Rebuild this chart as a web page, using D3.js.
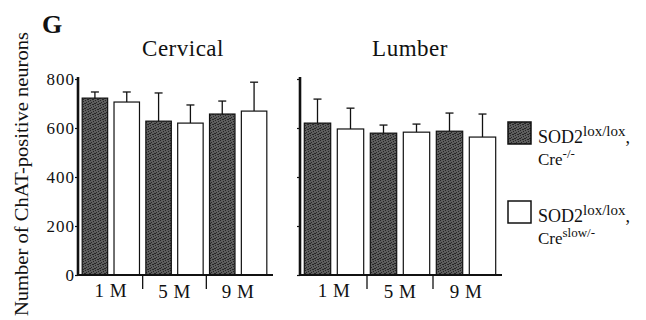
<!DOCTYPE html>
<html>
<head>
<meta charset="utf-8">
<script src="https://cdn.jsdelivr.net/npm/d3@7"></script>
<style>
  body { margin: 0; background: #fff; }
  text { font-family: "Liberation Serif", "Tinos", "DejaVu Serif", serif; fill: #111; }
</style>
</head>
<body>
<div id="chart"></div>
<script>
// values (mean, upper error)
var months = ['1 M', '5 M', '9 M'],
    genotypes = ['ctrl', 'slow'],
    cervicalMean = [722, 706, 628, 620, 657, 669],
    cervicalErr = [25, 41, 115, 74, 53, 118],
    lumberMean = [620, 596, 579, 583, 587, 563],
    lumberErr = [98, 85, 33, 33, 74, 94],
    yTicks = [0, 200, 400, 600, 800]

var width = 646, height = 320,
    serif = '"Liberation Serif", "Tinos", "DejaVu Serif", serif'

var svg = d3.select('#chart').append('svg')
    .attr('width', width)
    .attr('height', height)
    .attr('font-family', serif)

// stippled dark fill like the printed figure
var defs = svg.append('defs')
var pat = defs.append('pattern')
    .attr('id', 'stipple')
    .attr('width', 5).attr('height', 5)
    .attr('patternUnits', 'userSpaceOnUse')
pat.append('rect').attr('width', 5).attr('height', 5).attr('fill', '#5e5e5e')
var dots = [[0, 0], [3, 1], [1, 2], [4, 3], [2, 4], [0, 3], [3, 4]]
dots.forEach(function (d) {
    pat.append('rect').attr('x', d[0]).attr('y', d[1]).attr('width', 1).attr('height', 1).attr('fill', '#262626')
})

var y = d3.scaleLinear().domain([0, 800]).range([275, 79])

var keys = []
months.forEach(function (m) { genotypes.forEach(function (g) { keys.push(m + '|' + g) }) })

var panels = [
    { title: 'Cervical', mean: cervicalMean, err: cervicalErr, x0: 78, x1: 273, labels: true, tx: 183 },
    { title: 'Lumber', mean: lumberMean, err: lumberErr, x0: 300, x1: 502, labels: false, tx: 410 }
]

panels.forEach(drawPanel)

function drawPanel(p) {
    var x = d3.scaleBand().domain(keys).range([p.x0 + 1, p.x1 - 3]).paddingInner(0.2).paddingOuter(0.1)
    var g = svg.append('g')

    // y axis
    var axis = d3.axisLeft(y).tickValues(yTicks).tickSize(3).tickSizeOuter(0)
        .tickFormat(p.labels ? d3.format('d') : '')
    var ag = g.append('g').attr('transform', 'translate(' + p.x0 + ',0)').call(axis)
        .attr('font-family', serif)
    ag.select('.domain').attr('stroke', '#111').attr('stroke-width', 2.6)
        .attr('d', 'M0,' + (y(0) + 1) + 'V' + (y(800) - 2))
    ag.selectAll('.tick line').attr('stroke', '#111').attr('stroke-width', 1.2)
    ag.selectAll('.tick text')
        .style('font-size', '17px')
        .style('letter-spacing', '1px')
        .attr('fill', '#111')
        .attr('x', -3).attr('dy', '0.35em')

    // bars
    var data = keys.map(function (k, i) { return { key: k, mean: p.mean[i], err: p.err[i], dark: i % 2 === 0 } })

    g.selectAll('line.err').data(data).enter().append('line')
        .attr('x1', function (d) { return x(d.key) + x.bandwidth() / 2 })
        .attr('x2', function (d) { return x(d.key) + x.bandwidth() / 2 })
        .attr('y1', function (d) { return y(d.mean) })
        .attr('y2', function (d) { return y(d.mean + d.err) })
        .attr('stroke', '#111').attr('stroke-width', 1.3)
    g.selectAll('line.cap').data(data).enter().append('line')
        .attr('x1', function (d) { return x(d.key) + x.bandwidth() / 2 - 4 })
        .attr('x2', function (d) { return x(d.key) + x.bandwidth() / 2 + 4 })
        .attr('y1', function (d) { return y(d.mean + d.err) })
        .attr('y2', function (d) { return y(d.mean + d.err) })
        .attr('stroke', '#111').attr('stroke-width', 1.3)

    g.selectAll('rect.bar').data(data).enter().append('rect')
        .attr('x', function (d) { return x(d.key) })
        .attr('width', x.bandwidth())
        .attr('y', function (d) { return y(d.mean) })
        .attr('height', function (d) { return y(0) - y(d.mean) })
        .attr('fill', function (d) { return d.dark ? 'url(#stipple)' : '#fff' })
        .attr('stroke', '#111')
        .attr('stroke-width', 1.2)

    // x axis line
    g.append('line')
        .attr('x1', p.x0).attr('x2', p.x1)
        .attr('y1', y(0)).attr('y2', y(0))
        .attr('stroke', '#111').attr('stroke-width', 2)

    // group dividers and month labels
    months.forEach(function (m, i) {
        var a = x(m + '|' + genotypes[0]),
            b = x(m + '|' + genotypes[1]) + x.bandwidth()
        g.append('text')
            .attr('x', (a + b) / 2)
            .attr('y', y(0) + 22 + (i > 0 ? 1 : 0))
            .attr('text-anchor', 'middle')
            .style('font-size', '19px')
            .style('letter-spacing', '0.5px')
            .text(m)
        if (i > 0) {
            var prev = x(months[i - 1] + '|' + genotypes[1]) + x.bandwidth()
            var mid = (prev + a) / 2
            g.append('line')
                .attr('x1', mid).attr('x2', mid)
                .attr('y1', y(0)).attr('y2', y(0) + 14)
                .attr('stroke', '#111').attr('stroke-width', 1.3)
        }
    })

    // title
    g.append('text')
        .attr('x', p.tx)
        .attr('y', 56)
        .attr('text-anchor', 'middle')
        .style('font-size', '23px')
        .style('letter-spacing', '0.5px')
        .text(p.title)
}

// panel letter
svg.append('text')
    .attr('x', 42).attr('y', 33)
    .style('font-size', '26px')
    .style('font-weight', 'bold')
    .text('G')

// y axis title
svg.append('text')
    .attr('transform', 'translate(28,174) rotate(-90)')
    .attr('text-anchor', 'middle')
    .attr('textLength', 284)
    .attr('lengthAdjust', 'spacingAndGlyphs')
    .style('font-size', '18px')
    .text('Number of ChAT-positive neurons')

// legend
var legend = [
    { fill: 'url(#stipple)', sup1: 'lox/lox', base2: 'Cre', sup2: '-/-', y: 122 },
    { fill: '#fff', sup1: 'lox/lox', base2: 'Cre', sup2: 'slow/-', y: 201 }
]
var lg = svg.append('g')
legend.forEach(function (d) {
    lg.append('rect')
        .attr('x', 508).attr('y', d.y)
        .attr('width', 23).attr('height', 22)
        .attr('fill', d.fill)
        .attr('stroke', '#111').attr('stroke-width', 1.5)
    var t1 = lg.append('text').attr('x', 538).attr('y', d.y + 21).style('font-size', '18px')
    t1.append('tspan').text('SOD2')
    t1.append('tspan').attr('dy', -7).style('font-size', '15px').text(d.sup1)
    t1.append('tspan').attr('dy', 7).text(',')
    var t2 = lg.append('text').attr('x', 538).attr('y', d.y + 43).style('font-size', '17px')
    t2.append('tspan').text(d.base2)
    t2.append('tspan').attr('dy', -7).style('font-size', '13px').text(d.sup2)
})
</script>
</body>
</html>
